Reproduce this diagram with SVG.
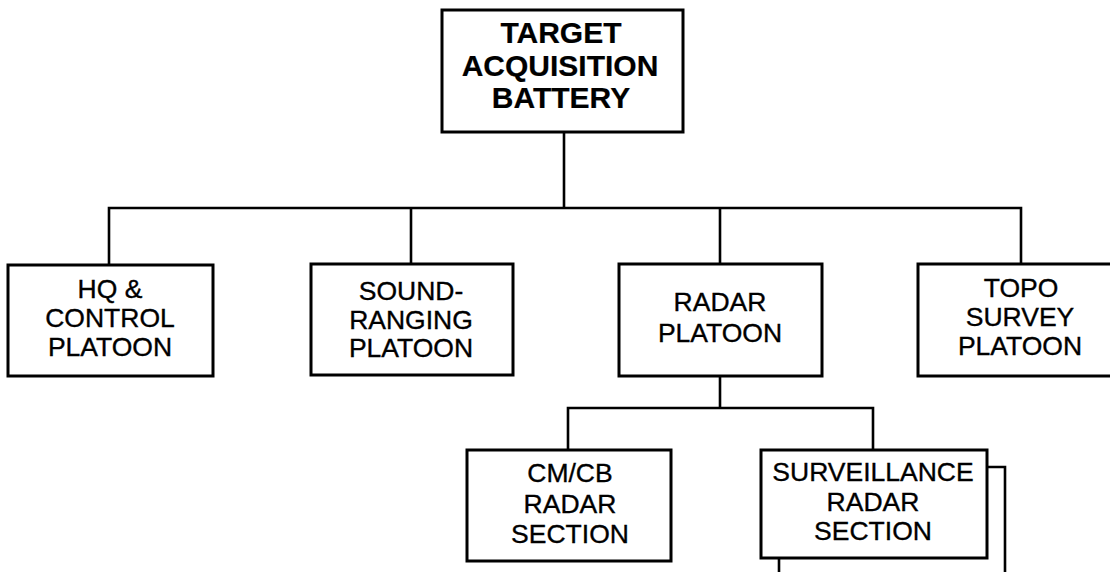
<svg xmlns="http://www.w3.org/2000/svg" width="1110" height="572" viewBox="0 0 1110 572">
<style>
.box{fill:#fff;stroke:#000;stroke-width:3}
.ln{fill:none;stroke:#000;stroke-width:2.6}
.t{font-family:"Liberation Sans",Arial,sans-serif;font-size:26.5px;text-anchor:middle;fill:#000;stroke:#000;stroke-width:0.35}
.b{font-weight:bold;font-size:30px;stroke-width:0.2}
</style>
<rect width="1110" height="572" fill="#fff"/>
<g id="connectors">
<path class="ln" d="M564,132 V208"/>
<path class="ln" d="M109,265 V208 H1021 V264"/>
<path class="ln" d="M411,208 V264"/>
<path class="ln" d="M720,208 V264"/>
<path class="ln" d="M720,376 V408"/>
<path class="ln" d="M568,450 V408 H873 V450"/>
<path class="ln" d="M987,467 H1005 V572"/>
<path class="ln" d="M779,558 V572"/>
</g>
<g id="target">
<rect class="box" x="442" y="10" width="241" height="122"/>
<text class="t b" x="561" y="43">TARGET</text>
<text class="t b" x="560" y="76">ACQUISITION</text>
<text class="t b" x="561" y="108">BATTERY</text>
</g>
<g id="hq">
<rect class="box" x="8" y="265" width="205" height="111"/>
<text class="t" x="110" y="298">HQ &amp;</text>
<text class="t" x="110" y="327">CONTROL</text>
<text class="t" x="110" y="356">PLATOON</text>
</g>
<g id="sound">
<rect class="box" x="311" y="264" width="202" height="111"/>
<text class="t" x="411" y="300">SOUND-</text>
<text class="t" x="411" y="329">RANGING</text>
<text class="t" x="411" y="357">PLATOON</text>
</g>
<g id="radar">
<rect class="box" x="619" y="264" width="203" height="112"/>
<text class="t" x="720" y="311">RADAR</text>
<text class="t" x="720" y="342">PLATOON</text>
</g>
<g id="topo">
<rect class="box" x="918" y="264" width="210" height="112"/>
<text class="t" x="1021" y="297">TOPO</text>
<text class="t" x="1020" y="326">SURVEY</text>
<text class="t" x="1020" y="355">PLATOON</text>
</g>
<g id="cmcb">
<rect class="box" x="467" y="450" width="204" height="111"/>
<text class="t" x="570" y="482">CM/CB</text>
<text class="t" x="570" y="513">RADAR</text>
<text class="t" x="570" y="543">SECTION</text>
</g>
<g id="surv">
<rect class="box" x="761" y="450" width="226" height="108"/>
<text class="t" x="873" y="481">SURVEILLANCE</text>
<text class="t" x="873" y="511">RADAR</text>
<text class="t" x="873" y="540">SECTION</text>
</g>
</svg>
